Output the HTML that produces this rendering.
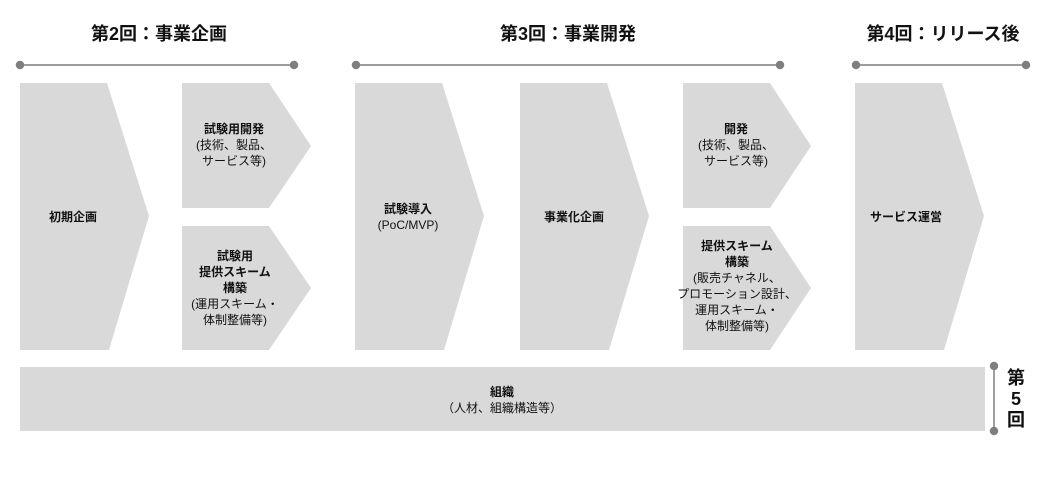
<!DOCTYPE html>
<html><head><meta charset="utf-8"><style>
body{margin:0;width:1050px;height:477px;background:#fff;overflow:hidden}
svg text{font-family:"Liberation Sans","Noto Sans CJK JP",sans-serif;fill:#111}
.h{font-size:18px;font-weight:bold}
.b{font-size:12px;font-weight:bold}
.n{font-size:12px}
</style></head><body>
<svg width="1050" height="477" xmlns="http://www.w3.org/2000/svg">
<g fill="#d9d9d9">
<polygon points="20,83 107,83 149,216 109,350 20,350"/>
<polygon points="182,83 269,83 311,146 269,208 182,208"/>
<polygon points="182,226 269,226 311,288 269,350 182,350"/>
<polygon points="355,83 442,83 484,216 444,350 355,350"/>
<polygon points="520,83 607,83 649,216 609,350 520,350"/>
<polygon points="683,83 770,83 811,146 770,208 683,208"/>
<polygon points="683,226 770,226 811,288 770,350 683,350"/>
<polygon points="855,83 942,83 984,216 944,350 855,350"/>
<rect x="20" y="367" width="965" height="64"/>
</g>
<g stroke="#7f7f7f" stroke-width="1.5" fill="#7f7f7f">
<line x1="20" y1="65" x2="294" y2="65"/><circle cx="20" cy="65" r="3.5"/><circle cx="294" cy="65" r="3.5"/>
<line x1="356" y1="65" x2="780" y2="65"/><circle cx="356" cy="65" r="3.5"/><circle cx="780" cy="65" r="3.5"/>
<line x1="856" y1="65" x2="1026" y2="65"/><circle cx="856" cy="65" r="3.5"/><circle cx="1026" cy="65" r="3.5"/>
<line x1="994" y1="366" x2="994" y2="431"/><circle cx="994" cy="366" r="3.5"/><circle cx="994" cy="431" r="3.5"/>
</g>
<g text-anchor="middle">
<text class="h" x="159" y="40">第2回：事業企画</text>
<text class="h" x="568" y="40">第3回：事業開発</text>
<text class="h" x="943" y="40">第4回：リリース後</text>
<text class="b" x="73" y="221">初期企画</text>
<text class="b" x="234" y="133">試験用開発</text>
<text class="n" x="234" y="149">(技術、製品、</text>
<text class="n" x="234" y="165">サービス等)</text>
<text class="b" x="235" y="260">試験用</text>
<text class="b" x="235" y="276">提供スキーム</text>
<text class="b" x="235" y="292">構築</text>
<text class="n" x="235" y="308">(運用スキーム・</text>
<text class="n" x="235" y="324">体制整備等)</text>
<text class="b" x="408" y="213">試験導入</text>
<text class="n" x="408" y="229">(PoC/MVP)</text>
<text class="b" x="574" y="221">事業化企画</text>
<text class="b" x="736" y="133">開発</text>
<text class="n" x="736" y="149">(技術、製品、</text>
<text class="n" x="736" y="165">サービス等)</text>
<text class="b" x="737" y="250">提供スキーム</text>
<text class="b" x="737" y="266">構築</text>
<text class="n" x="737" y="282">(販売チャネル、</text>
<text class="n" x="737" y="298">プロモーション設計、</text>
<text class="n" x="737" y="314">運用スキーム・</text>
<text class="n" x="737" y="330">体制整備等)</text>
<text class="b" x="906" y="221">サービス運営</text>
<text class="b" x="502" y="396">組織</text>
<text class="n" x="502" y="412">（人材、組織構造等）</text>
<text class="h" x="1016" y="384">第</text>
<text class="h" x="1016" y="405">5</text>
<text class="h" x="1016" y="426">回</text>
</g>
</svg>
</body></html>
